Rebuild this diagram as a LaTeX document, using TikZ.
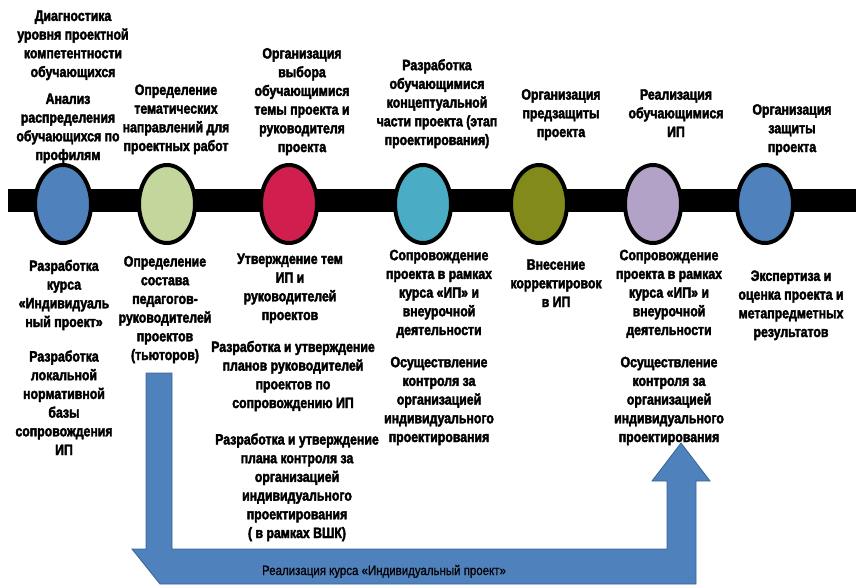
\documentclass[tikz,border=0pt]{standalone}
\usepackage{fontspec}
\setmainfont{Liberation Sans}[FakeStretch=0.82, BoldFeatures={FakeBold=2.5}]
\newfontfamily\bandfont{Liberation Sans}[FakeStretch=0.85, FakeBold=0.8]
\usetikzlibrary{shapes.geometric}
\definecolor{cblue}{HTML}{4F81BD}
\definecolor{cgreen}{HTML}{C3D69B}
\definecolor{cred}{HTML}{D01F4F}
\definecolor{ccyan}{HTML}{4BACC6}
\definecolor{colive}{HTML}{828A1B}
\definecolor{clav}{HTML}{B3A2C7}
\definecolor{cborder}{HTML}{3A6496}
\begin{document}
\begin{tikzpicture}[x=1pt,y=-1pt,
  lbl/.style={anchor=base, align=center, inner sep=0pt, font=\bfseries\fontsize{15}{18.7}\selectfont},
  stage/.style={ellipse, draw=black, line width=4pt, minimum width=56pt, minimum height=78pt, inner sep=0pt},
  band/.style={fill=cblue, draw=cborder, line width=0.8pt, line join=miter}]
\useasboundingbox (0,0) rectangle (856,584);
% timeline bar
\fill[black] (8,189) rectangle (856,212);
% stages
\node[stage, fill=cblue]  (s1) at (63,204) {};
\node[stage, fill=cgreen] (s2) at (167,204) {};
\node[stage, fill=cred]   (s3) at (289,204) {};
\node[stage, fill=ccyan]  (s4) at (423,204) {};
\node[stage, fill=colive] (s5) at (539,204) {};
\node[stage, fill=clav]   (s6) at (653,204) {};
\node[stage, fill=cblue]  (s7) at (765,204) {};
% top labels (base = baseline of last line)
\node[lbl] (t1a) at (73,77) {Диагностика\\уровня проектной\\компетентности\\обучающихся};
\node[lbl] (t1b) at (68,160) {Анализ\\распределения\\обучающихся по\\профилям};
\node[lbl] (t2) at (176,151) {Определение\\тематических\\направлений для\\проектных работ};
\node[lbl] (t3) at (302,152) {Организация\\выбора\\обучающимися\\темы проекта  и\\руководителя\\проекта};
\node[lbl] (t4) at (437,145) {Разработка\\обучающимися\\концептуальной\\части проекта (этап\\проектирования)};
\node[lbl] (t5) at (561,137) {Организация\\предзащиты\\проекта};
\node[lbl] (t6) at (676,137) {Реализация\\обучающимися\\ИП};
\node[lbl] (t7) at (792,152) {Организация\\защиты\\проекта};
% bottom labels
\node[lbl] (b1a) at (64,327) {Разработка\\курса\\«Индивидуаль\\ный проект»};
\node[lbl] (b1b) at (64,455) {Разработка\\локальной\\нормативной\\базы\\сопровождения\\ИП};
\node[lbl] (b2) at (165,360) {Определение\\состава\\педагогов-\\руководителей\\проектов\\(тьюторов)};
\node[lbl] (b3a) at (290,320) {Утверждение тем\\ИП и\\руководителей\\проектов};
\node[lbl] (b3b) at (293,408) {Разработка и утверждение\\планов руководителей\\проектов по\\сопровождению ИП};
\node[lbl] (b3c) at (297,538) {Разработка и утверждение\\плана контроля за\\организацией\\индивидуального\\проектирования\\( в рамках ВШК)};
\node[lbl] (b4a) at (439,335) {Сопровождение\\проекта в рамках\\курса «ИП» и\\внеурочной\\деятельности};
\node[lbl] (b4b) at (439,442) {Осуществление\\контроля за\\организацией\\индивидуального\\проектирования};
\node[lbl] (b5) at (556,307) {Внесение\\корректировок\\в ИП};
\node[lbl] (b6a) at (669,335) {Сопровождение\\проекта в рамках\\курса «ИП» и\\внеурочной\\деятельности};
\node[lbl] (b6b) at (669,442) {Осуществление\\контроля за\\организацией\\индивидуального\\проектирования};
\node[lbl] (b7) at (791,337) {Экспертиза и\\оценка проекта и\\метапредметных\\результатов};
% bent arrow
\draw[band] (146,373) -- (172,373) -- (172,549) -- (667,549) -- (667,481) -- (652,481)
  -- (681,443) -- (710,481) -- (696,481) -- (696,584) -- (160,584) -- (132,549)
  -- (146,549) -- cycle;
\node[anchor=base, inner sep=0pt, font=\bandfont\fontsize{13.5}{16}\selectfont] (bandtxt) at (384,575) {Реализация курса «Индивидуальный проект»};
\end{tikzpicture}
\end{document}
